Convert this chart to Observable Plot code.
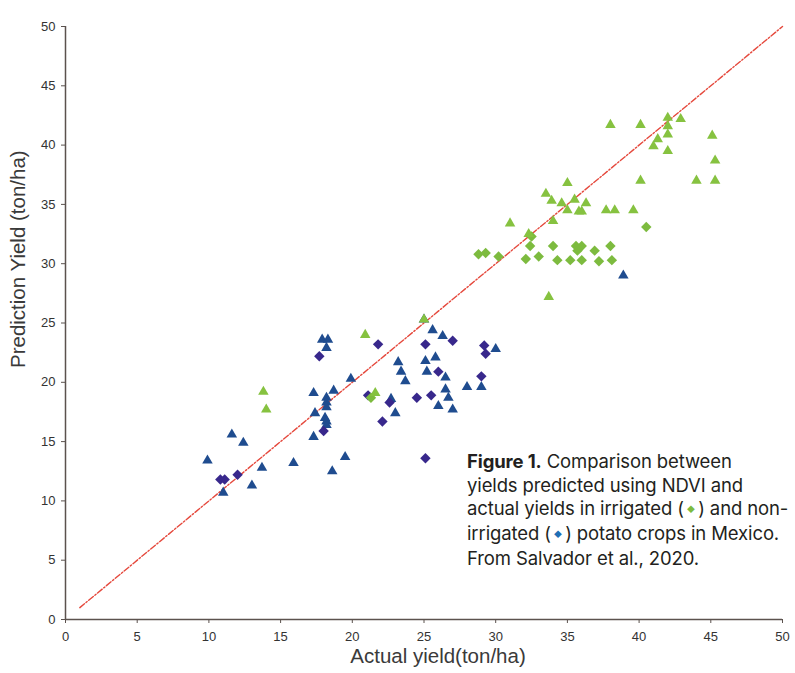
<!DOCTYPE html>
<html>
<head>
<meta charset="utf-8">
<script src="https://cdn.jsdelivr.net/npm/d3@7"></script>
<script src="https://cdn.jsdelivr.net/npm/@observablehq/plot@0.6"></script>
<style>
  body { margin: 0; background: #fff; }
  #wrap { position: relative; width: 795px; height: 673px; background: #fff; }
  #caption {
    position: absolute; left: 467px; top: 450px;
    font-family: Inter, "Open Sans", sans-serif; font-size: 18.5px; line-height: 23.7px;
    color: #231f20; letter-spacing: -0.12px;
  }
  #caption b { font-weight: 700; }
  .sw { font-size: 8px; vertical-align: 3px; padding: 0 3px; }
</style>
</head>
<body>
<div id="wrap">
  <div id="chart"></div>
  <div id="caption"></div>
</div>
<script>
// ---- data ----
const xTicks = [0, 5, 10, 15, 20, 25, 30, 35, 40, 45, 50];
const yTicks = [0, 5, 10, 15, 20, 25, 30, 35, 40, 45, 50];
const xLabel = "Actual yield(ton/ha)";
const yLabel = "Prediction Yield (ton/ha)";
const oneToOne = [[1, 1], [50, 50]];

// non-irrigated (triangles, blue)
const nonIrrTriangles = [
  [9.9,13.4],[11.0,10.7],[11.6,15.6],[12.4,14.9],[13.0,11.3],[13.7,12.8],[15.9,13.2],
  [17.3,19.1],[17.4,17.4],[17.3,15.4],[17.9,23.6],[18.3,23.6],[18.2,22.9],[18.2,18.7],
  [18.2,18.3],[18.2,17.9],[18.1,17.0],[18.2,16.7],[18.2,16.4],[18.6,12.5],[18.7,19.3],
  [19.5,13.7],[19.9,20.3],[22.7,18.6],[23.0,17.4],[23.2,21.7],[23.4,20.9],[23.7,20.1],
  [25.0,25.3],[25.6,24.4],[26.3,23.9],[25.1,21.8],[25.8,22.1],[25.2,20.9],[26.5,20.4],
  [26.5,19.4],[26.7,18.7],[27.0,17.7],[26.0,18.0],[28.0,19.6],[29.0,19.6],[30.0,22.8],
  [38.9,29.0]
];
// non-irrigated (diamonds, purple)
const nonIrrDiamonds = [
  [10.8,11.8],[11.1,11.8],[12.0,12.2],[17.7,22.2],[18.0,15.9],[21.1,18.9],[21.8,23.2],
  [22.1,16.7],[22.6,18.3],[24.5,18.7],[25.1,23.2],[25.1,13.6],[25.5,18.9],[26.0,20.9],
  [27.0,23.5],[29.2,23.1],[29.3,22.4],[29.0,20.5]
];
// irrigated (triangles, green)
const irrTriangles = [
  [13.8,19.2],[14.0,17.7],[20.9,24.0],[21.6,19.1],[25.0,25.3],[31.0,33.4],[32.3,32.5],
  [33.5,35.9],[33.9,35.3],[34.0,33.6],[34.6,35.1],[35.0,36.8],[35.0,34.5],[35.5,35.4],
  [35.8,34.4],[36.0,34.4],[36.3,35.1],[33.7,27.2],[37.7,34.5],[38.3,34.5],[39.6,34.5],
  [38.0,41.7],[40.1,41.7],[42.0,42.3],[42.9,42.2],[42.0,41.6],[42.0,40.9],[41.3,40.5],
  [41.0,39.9],[42.0,39.5],[45.1,40.8],[45.3,38.7],[40.1,37.0],[44.0,37.0],[45.3,37.0]
];
// irrigated (diamonds, green)
const irrDiamonds = [
  [21.3,18.7],[28.8,30.8],[29.3,30.9],[30.2,30.6],[32.1,30.4],[32.4,31.5],[32.5,32.3],
  [33.0,30.6],[34.0,31.5],[34.3,30.3],[35.2,30.3],[35.6,31.5],[35.7,31.1],[36.0,31.5],
  [36.0,30.3],[36.9,31.1],[37.2,30.2],[38.0,31.5],[38.1,30.3],[40.5,33.1]
];

const axisColor = "#5b524e";
const titleFont = { fontSize: 20.5, fill: "#3a3a3a", fontFamily: "'Liberation Sans', Arial, sans-serif" };
const plot = Plot.plot({
  width: 795, height: 673,
  marginLeft: 65, marginRight: 13, marginTop: 26, marginBottom: 54,
  x: { domain: [0, 50] },
  y: { domain: [0, 50] },
  style: { fontFamily: "'Liberation Sans', Arial, sans-serif", fontSize: "13px", color: "#333", background: "#fff" },
  marks: [
    Plot.axisX({ ticks: xTicks, tickSize: 4, tickPadding: 8, stroke: axisColor, label: null }),
    Plot.axisY({ ticks: yTicks, tickSize: 4, tickPadding: 6, stroke: axisColor, label: null }),
    Plot.text([xLabel], { frameAnchor: "bottom", dy: 43, dx: 14, ...titleFont }),
    Plot.text([yLabel], { frameAnchor: "left", rotate: -90, dx: -47, dy: 45, ...titleFont }),
    Plot.ruleY([0], { stroke: axisColor, strokeWidth: 1.5 }),
    Plot.ruleX([0], { stroke: axisColor, strokeWidth: 1.5 }),
    Plot.line(oneToOne, { x: d => d[0], y: d => d[1], stroke: "#e5483c", strokeWidth: 1.4, strokeDasharray: "6,2,1.5,2" }),
    Plot.dot(nonIrrTriangles, { x: d => d[0], y: d => d[1], symbol: "triangle", r: 3.9, fill: "#1f4c8f" }),
    Plot.dot(nonIrrDiamonds, { x: d => d[0], y: d => d[1], symbol: "diamond2", r: 4.7, fill: "#38288c", stroke: "none" }),
    Plot.dot(irrDiamonds, { x: d => d[0], y: d => d[1], symbol: "diamond2", r: 4.7, fill: "#7dbb3f", stroke: "none" }),
    Plot.dot(irrTriangles, { x: d => d[0], y: d => d[1], symbol: "triangle", r: 3.9, fill: "#86c240" })
  ]
});
document.getElementById("chart").appendChild(plot);

document.getElementById("caption").innerHTML =
  "<b>Figure 1.</b> Comparison between<br>" +
  "yields predicted using NDVI and<br>" +
  "actual yields in irrigated (<span class='sw' style='color:#7dbb3f'>◆</span>) and non-<br>" +
  "irrigated (<span class='sw' style='color:#1f6fb5'>◆</span>) potato crops in Mexico.<br>" +
  "From Salvador et al., 2020.";
</script>
</body>
</html>
